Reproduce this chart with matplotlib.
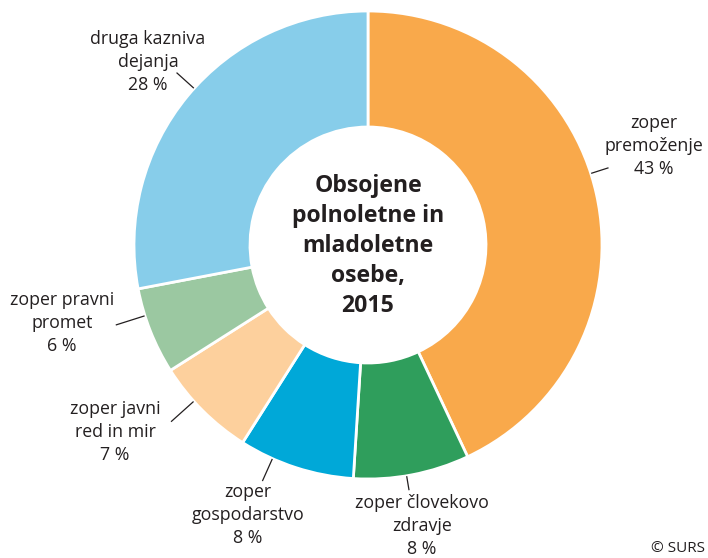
import matplotlib
matplotlib.use("Agg")
import matplotlib.pyplot as plt
import numpy as np

categories = ["zoper\npremoženje", "zoper človekovo\nzdravje", "zoper\ngospodarstvo",
              "zoper javni\nred in mir", "zoper pravni\npromet", "druga kazniva\ndejanja"]
values = [43, 8, 8, 7, 6, 28]
colors = ["#F9A94B", "#2F9E5C", "#00A8D8", "#FDD09D", "#9BC8A1", "#87CDEA"]

# label layout (pixel positions, top-left origin) and leader line angles
label_pos = [(654, 146), (422, 526), (248, 515), (115, 432), (62, 323), (148, 62)]
leader_ang = [17.8, 279.5, 245.9, 221.9, 197.6, 138.0]
leader_len = [17, 13, 23, 29, 29, 22]

W, H = 708, 558
fig = plt.figure(figsize=(W / 100, H / 100), dpi=100)
ax = fig.add_axes([0, 0, 1, 1])

cx, cy, R = 368, H - 245, 234
ax.pie(values, colors=colors, startangle=90, counterclock=False,
       center=(cx, cy), radius=R, frame=True,
       wedgeprops=dict(width=116, edgecolor="white", linewidth=2))
ax.set_xlim(0, W)
ax.set_ylim(0, H)
ax.set_aspect("equal")
ax.axis("off")

font = "Open Sans"
for cat, v, (lx, ly), a, ln in zip(categories, values, label_pos, leader_ang, leader_len):
    ax.text(lx, H - ly, f"{cat}\n{v} %", ha="center", va="center",
            fontsize=12.8, family=font, color="#231F20", linespacing=1.36)
    t = np.deg2rad(a)
    r0, r1 = R + 1, R + 1 + ln
    ax.plot([cx + r0 * np.cos(t), cx + r1 * np.cos(t)],
            [cy + r0 * np.sin(t), cy + r1 * np.sin(t)],
            color="#231F20", lw=0.9)

ax.text(cx, cy - 1, "Obsojene\npolnoletne in\nmladoletne\nosebe,\n2015", ha="center",
        va="center", fontsize=16.6, fontweight="bold", family=font, color="#231F20",
        linespacing=1.34)
ax.text(705, H - 549, "© SURS", ha="right", va="center", fontsize=11, family=font,
        color="#231F20")

fig.savefig("out.png", dpi=100)
